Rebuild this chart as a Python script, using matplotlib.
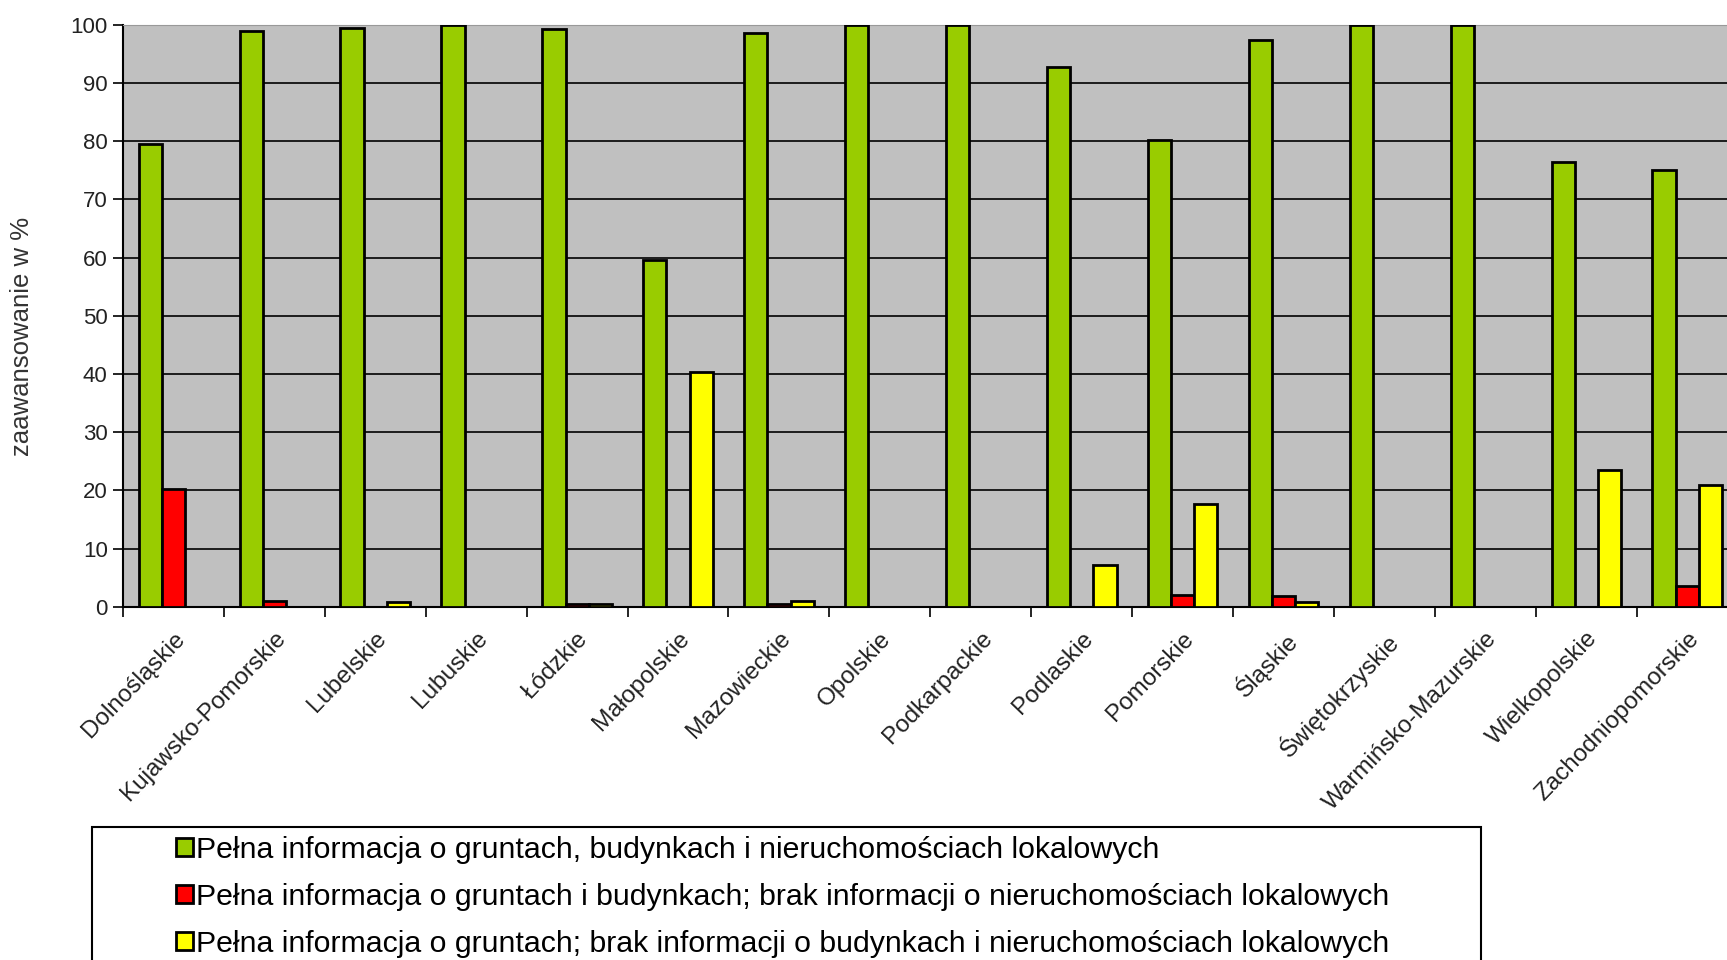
import numpy as np
import matplotlib.pyplot as plt
from matplotlib.patches import Rectangle

# Dane: województwa i udział procentowy
wojewodztwa = ['Dolnośląskie', 'Kujawsko-Pomorskie', 'Lubelskie', 'Lubuskie', 'Łódzkie',
               'Małopolskie', 'Mazowieckie', 'Opolskie', 'Podkarpackie', 'Podlaskie',
               'Pomorskie', 'Śląskie', 'Świętokrzyskie', 'Warmińsko-Mazurskie',
               'Wielkopolskie', 'Zachodniopomorskie']
pelna = [79.5, 99.0, 99.4, 100, 99.3, 59.6, 98.6, 100, 100, 92.8, 80.3, 97.4, 100, 100, 76.5, 75.0]
bez_lokali = [20.3, 0.9, 0, 0, 0.4, 0, 0.4, 0, 0, 0, 2.0, 1.8, 0, 0, 0, 3.5]
tylko_grunty = [0, 0, 0.8, 0, 0.4, 40.3, 0.9, 0, 0, 7.2, 17.7, 0.8, 0, 0, 23.5, 21.0]

etykiety = ['Pełna informacja o gruntach, budynkach i nieruchomościach lokalowych',
            'Pełna informacja o gruntach i budynkach; brak informacji o nieruchomościach lokalowych',
            'Pełna informacja o gruntach; brak informacji o budynkach i nieruchomościach lokalowych']
kolory = ['#99CC00', '#FF0000', '#FFFF00']

plt.rcParams['font.family'] = ['Liberation Sans', 'DejaVu Sans']

fig = plt.figure(figsize=(17.27, 9.6), dpi=100)
ax = fig.add_axes([0.0712, 0.368, 0.935, 0.606])
ax.set_facecolor('#C0C0C0')

x = np.arange(len(wojewodztwa))
w = 0.23
serie = [pelna, bez_lokali, tylko_grunty]
uchwyty = []
for i, (dane, kol) in enumerate(zip(serie, kolory)):
    b = ax.bar(x + (i - 1) * w, dane, w, color=kol, edgecolor='black', linewidth=2, zorder=3)
    uchwyty.append(b)

ax.set_xlim(-0.5, len(wojewodztwa) - 0.5)
ax.set_ylim(0, 100)
ax.set_yticks(np.arange(0, 101, 10))
ax.yaxis.grid(True, color='black', linewidth=1.2, zorder=1)
ax.set_axisbelow(True)

ax.set_xticks(x)
ax.set_xticklabels(wojewodztwa, rotation=46, ha='right', rotation_mode='anchor', fontsize=17.5,
                   color='#222222')
ax.set_xticks(np.arange(-0.5, len(wojewodztwa), 1), minor=True)
ax.tick_params(axis='x', which='major', length=0, pad=15)
ax.tick_params(axis='x', which='minor', length=7, width=1.2, direction='out')
ax.tick_params(axis='y', length=7, width=1.2, labelsize=16, pad=4, labelcolor='#222222')

ax.spines['top'].set_color('#999999')
ax.spines['right'].set_visible(False)
ax.spines['left'].set_linewidth(1.5)
ax.spines['bottom'].set_linewidth(1.5)

fig.text(22 / 1727, 1 - 336 / 960, 'zaawansowanie w %', rotation=90, ha='center', va='center',
         fontsize=18.5, color='#333333')

# Ramka legendy (wychodzi poza dół rysunku)
fig.patches.append(Rectangle((92 / 1727, -0.05), (1481 - 92) / 1727, 0.05 + 1 - 827 / 960,
                             transform=fig.transFigure, fill=False, edgecolor='black', linewidth=1.5))
fig.legend(uchwyty, etykiety, loc='upper left', bbox_to_anchor=(176 / 1727, 1 - 836 / 960),
           frameon=False, fontsize=21.8, handlelength=0.55, handleheight=0.55, handletextpad=0.12,
           labelspacing=0.62, borderpad=0, borderaxespad=0)

fig.savefig('out.png', dpi=100)
